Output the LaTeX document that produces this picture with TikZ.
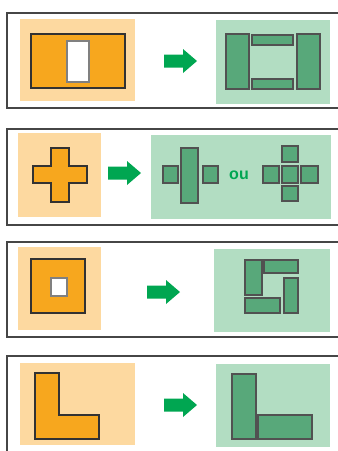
\documentclass[tikz,border=0pt]{standalone}
\usepackage{fontspec}
\newfontfamily\labelfont{Liberation Sans}
\usetikzlibrary{positioning}
\definecolor{orangebg}{RGB}{253,217,160}
\definecolor{orangepart}{RGB}{247,167,30}
\definecolor{greenbg}{RGB}{178,221,194}
\definecolor{greenpart}{RGB}{88,168,122}
\definecolor{arrowgreen}{RGB}{0,166,81}
\definecolor{edgegray}{RGB}{50,50,50}
\definecolor{framegray}{RGB}{70,70,70}

% block arrow: left end x, middle y
\newcommand{\greenarrow}[2]{%
  \fill[arrowgreen] (#1,#2-6.5) -- ++(19,0) -- ++(0,-5.5) -- ++(14,12)
    -- ++(-14,12) -- ++(0,-5.5) -- ++(-19,0) -- cycle;}

\begin{document}
\begin{tikzpicture}[x=1pt,y=-1pt,
    panel/.style={draw=framegray,line width=1.5pt},
    oldbg/.style={fill=orangebg},
    oldpart/.style={fill=orangepart,draw=edgegray,line width=1.3pt},
    hole/.style={fill=white,draw=gray,line width=1.3pt},
    newbg/.style={fill=greenbg},
    newpart/.style={fill=greenpart,draw=edgegray!85,line width=1.3pt}]
    \useasboundingbox (0,0) rectangle (338,451);
    \clip (0,0) rectangle (338,451);
    % Panel 1: wall with opening
    \draw[panel] (7,13) rectangle (345,108);
    \fill[oldbg] (20,19) rectangle (135,101);
    \draw[oldpart] (31,34) rectangle (125,88);
    \draw[hole] (67,41) rectangle (89,82);
    \greenarrow{164}{61}
    \fill[newbg] (216,20) rectangle (330,104);
    \draw[newpart] (226,34) rectangle (249,89);
    \draw[newpart] (252,35) rectangle (293,45);
    \draw[newpart] (252,79) rectangle (293,89);
    \draw[newpart] (297,34) rectangle (320,89);
    % Panel 2: cross
    \draw[panel] (7,129) rectangle (345,225);
    \fill[oldbg] (18,133) rectangle (101,217);
    \draw[oldpart] (51,148) -- (69,148) -- (69,166) -- (87,166) -- (87,183)
        -- (69,183) -- (69,202) -- (51,202) -- (51,183) -- (33,183)
        -- (33,166) -- (51,166) -- cycle;
    \greenarrow{108}{173}
    \fill[newbg] (151,135) rectangle (331,219);
    \draw[newpart] (163,166) rectangle (178,183);
    \draw[newpart] (181,148) rectangle (198,203);
    \draw[newpart] (203,166) rectangle (218,183);
    \node[font=\labelfont\bfseries\fontsize{16}{16}\selectfont,text=arrowgreen,
        inner sep=0pt] (or) at (239,175) {ou};
    \draw[newpart] (282,166) rectangle (298,183);
    \draw[newpart] (282,146) rectangle (298,162);
    \draw[newpart] (282,186) rectangle (298,201);
    \draw[newpart] (263,166) rectangle (279,183);
    \draw[newpart] (301,166) rectangle (318,183);
    % Panel 3: square with small opening
    \draw[panel] (7,242) rectangle (345,337);
    \fill[oldbg] (18,247) rectangle (101,330);
    \draw[oldpart] (31,259) rectangle (85,313);
    \draw[hole] (51,278) rectangle (67,296);
    \greenarrow{147}{292}
    \fill[newbg] (214,249) rectangle (330,332);
    \draw[newpart] (245,260) rectangle (262,295);
    \draw[newpart] (264,260) rectangle (298,273);
    \draw[newpart] (284,278) rectangle (298,313);
    \draw[newpart] (245,298) rectangle (280,313);
    % Panel 4: L shape
    \draw[panel] (7,356) rectangle (345,460);
    \fill[oldbg] (20,363) rectangle (135,445);
    \draw[oldpart] (35,373) -- (59,373) -- (59,415) -- (99,415) -- (99,439)
        -- (35,439) -- cycle;
    \greenarrow{164}{405}
    \fill[newbg] (216,364) rectangle (330,447);
    \draw[newpart] (232,374) rectangle (256,439);
    \draw[newpart] (258,415) rectangle (312,439);
\end{tikzpicture}
\end{document}
